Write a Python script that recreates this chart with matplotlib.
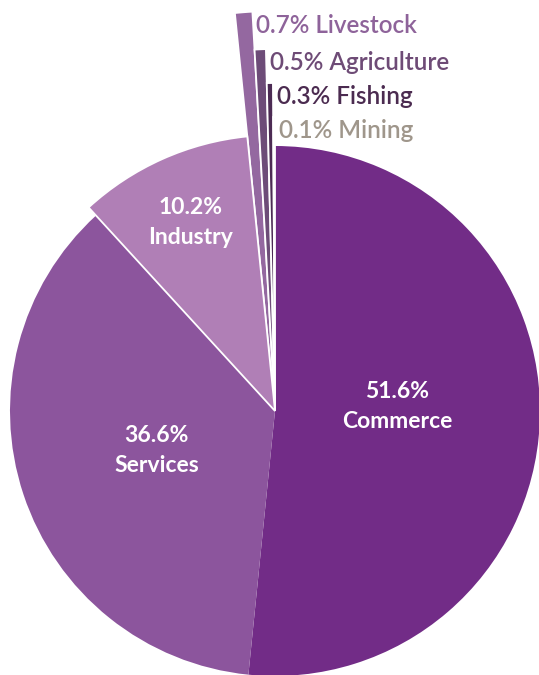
import numpy as np
import matplotlib
matplotlib.use("Agg")
import matplotlib.pyplot as plt

# Share of businesses by sector (%), clockwise from 12 o'clock
sectors = ["Commerce", "Services", "Industry", "Livestock", "Agriculture", "Fishing", "Mining"]
shares = [51.6, 36.6, 10.2, 0.7, 0.5, 0.3, 0.1]

colors = ["#722c87", "#8c559d", "#b07fb6", "#9468a0", "#6d4c78", "#4c2b54", "#a39a8e"]
text_colors = ["white", "white", "white", "#8e639a", "#6e4b76", "#4b2b50", "#9f968b"]
# outer radius of each wedge, in pixels (small sectors drawn as long needles)
radii = [265, 265, 276, 400, 362, 328, 294]

W, H = 539, 675
fig = plt.figure(figsize=(W / 100, H / 100), dpi=100)
ax = fig.add_axes([0, 0, 1, 1])

cx, cy = 275, H - 411
wedges, _ = ax.pie(shares, startangle=90, counterclock=False, center=(cx, cy),
                   radius=265, colors=colors, frame=True)
ax.set_xlim(0, W)
ax.set_ylim(0, H)
ax.set_aspect("equal")
ax.axis("off")

for i, w in enumerate(wedges):
    w.set_radius(radii[i])
    if i >= 2:
        w.set_edgecolor("white")
        w.set_linewidth(1.3)
    else:
        w.set_edgecolor("none")
    if i == 2:
        w.set_zorder(3)
    elif i > 2:
        w.set_zorder(2)

font = "Lato"
inner_dist = {0: 0.46, 1: 0.47, 2: 0.78}
for i, w in enumerate(wedges):
    mid = np.deg2rad((w.theta1 + w.theta2) / 2)
    if i in inner_dist:
        d = inner_dist[i] * 265
        if i == 0:
            mid = np.deg2rad(2)
        x, y = cx + d * np.cos(mid), cy + d * np.sin(mid)
        ax.text(x, y, f"{shares[i]:.1f}%\n{sectors[i]}", ha="center", va="center",
                color=text_colors[i], fontsize=16.5, fontweight="bold",
                family=font, linespacing=1.55, zorder=5)
    else:
        # right-hand edge of the needle (the side nearer 12 o'clock)
        edge = np.deg2rad(min(w.theta1, w.theta2))
        r = radii[i]
        tx, ty = cx + r * np.cos(edge), cy + r * np.sin(edge)
        ax.text(tx + 4, ty - 2, f"{shares[i]:.1f}% {sectors[i]}", ha="left", va="top",
                color=text_colors[i], fontsize=17.5, fontweight="semibold",
                family=font, zorder=5)

fig.savefig("out.png", dpi=100)
